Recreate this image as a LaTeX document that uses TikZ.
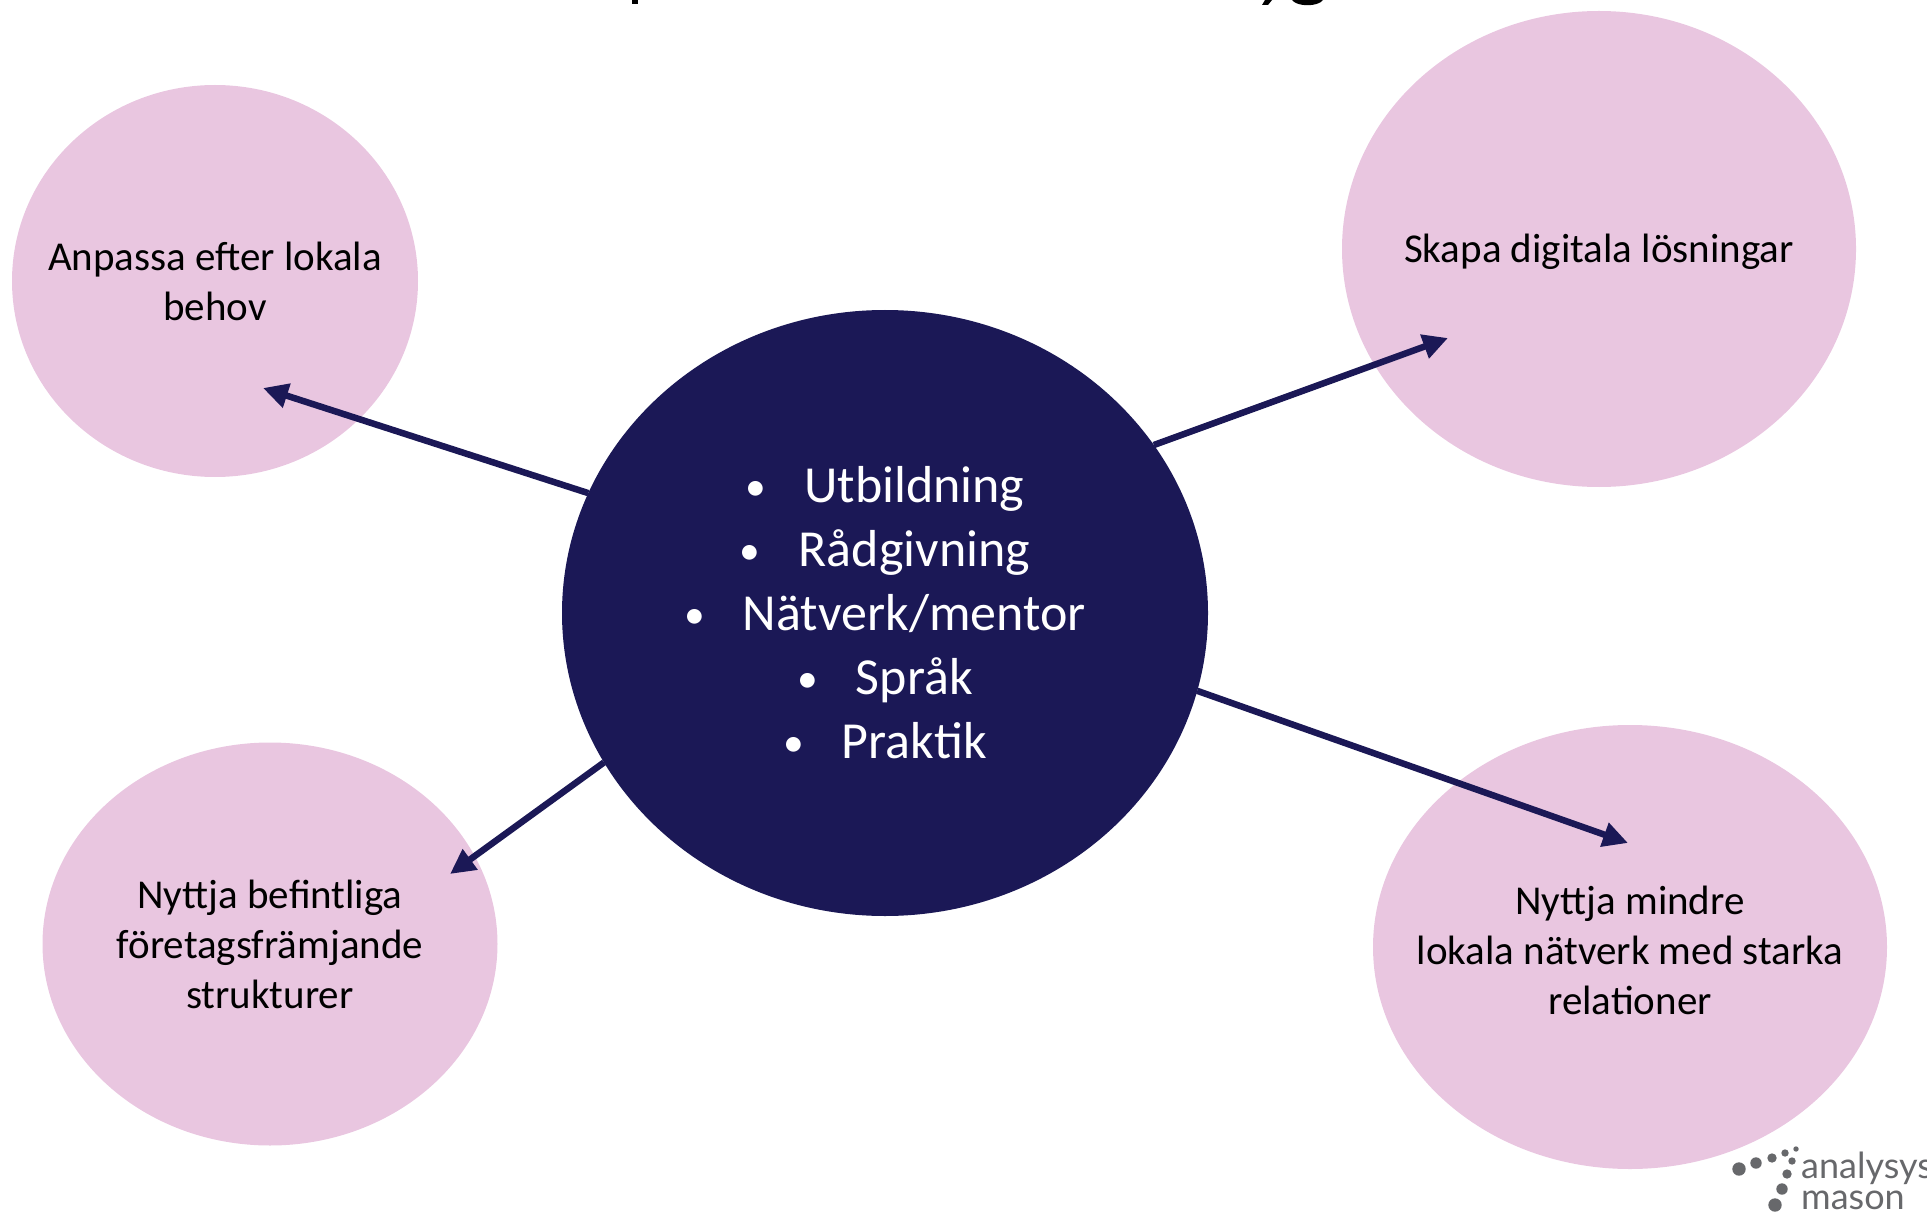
\documentclass[tikz,border=0pt]{standalone}
\usepackage{fontspec}
\setmainfont{Carlito}
\newfontfamily\logofont{Lato}
\usetikzlibrary{shapes.geometric,arrows.meta}
\definecolor{navy}{HTML}{1B1856}
\definecolor{pinkfill}{HTML}{E9C6E0}
\definecolor{logogray}{HTML}{67686B}
\tikzset{
  bubble/.style={ellipse, fill=pinkfill, draw=none, inner sep=0pt, outer sep=0pt},
  bubbletext/.style={font=\fontsize{41}{50}\selectfont, align=center, text=black, inner sep=0pt},
  hub/.style={ellipse, fill=navy, draw=none, inner sep=0pt, outer sep=0pt,
    minimum width=646pt, minimum height=606pt},
  hubtext/.style={font=\fontsize{52}{64}\selectfont, align=center, text=white, inner sep=0pt},
  link/.style={draw=navy, line width=6.5pt, -{Triangle[length=25pt,width=24pt]}},
  logodot/.style={fill=logogray},
  frag/.style={fill=black}
}
\newcommand{\bul}{\raisebox{2pt}{\scalebox{0.8}{\textbullet}}\hspace{38pt}}
\begin{document}
\begin{tikzpicture}[x=1pt,y=-1pt]
\useasboundingbox (0,0) rectangle (1927,1214);
% cut-off title fragments
\fill[frag] (632,0) rectangle (638,4);
\fill[frag] (1262,5) -- (1268,5) -- (1272,0) -- (1265,0) -- cycle;
\fill[frag] (1292,0) .. controls (1297,7) and (1318,7) .. (1323,0) -- cycle;
% bubbles
\node[bubble, minimum width=406pt, minimum height=392pt] (tl) at (215,281) {};
\node[bubbletext] (tlt) at (tl) {Anpassa efter lokala\\behov};
\node[bubble, minimum width=514pt, minimum height=476pt] (tr) at (1599,249) {};
\node[bubbletext] (trt) at (1599,252) {Skapa digitala lösningar};
\node[bubble, minimum width=455pt, minimum height=403pt] (bl) at (270,944) {};
\node[bubbletext] (blt) at (bl) {Nyttja befintliga\\företagsfrämjande\\strukturer};
\node[bubble, minimum width=514pt, minimum height=444pt] (br) at (1630,947) {};
\node[bubbletext] (brt) at (1630,950) {Nyttja mindre\\lokala nätverk med starka\\relationer};
% hub
\node[hub] (c) at (885,613) {};
\node[hubtext] (ct) at (c)
  {\bul Utbildning\\\bul Rådgivning\\\bul Nätverk/mentor\\\bul Språk\\\bul Praktik};
% arrow tips
\coordinate (ttl) at (263,388);
\coordinate (ttr) at (1448,338);
\coordinate (tbl) at (450,874);
\coordinate (tbr) at (1628,843);
\draw[link] (c.158.9) -- (ttl);
\draw[link] (c.32.5) -- (ttr);
\draw[link] (c.208.4) -- (tbl);
\draw[link] (c.346.5) -- (tbr);
% logo
\fill[logodot] (1739,1169) circle (6.7);
\fill[logodot] (1756,1163) circle (5.7);
\fill[logodot] (1772,1158) circle (4.7);
\fill[logodot] (1785,1153) circle (3.7);
\fill[logodot] (1796,1149) circle (2.7);
\fill[logodot] (1792,1161) circle (3.7);
\fill[logodot] (1787,1174) circle (4.7);
\fill[logodot] (1782,1189) circle (5.7);
\fill[logodot] (1775,1205) circle (6.7);
\node[anchor=base west, inner sep=0pt, font=\logofont\fontsize{36}{31}\selectfont,
  text=logogray, align=left] (logo) at (1801,1209) {analysys\\mason};
\end{tikzpicture}
\end{document}
